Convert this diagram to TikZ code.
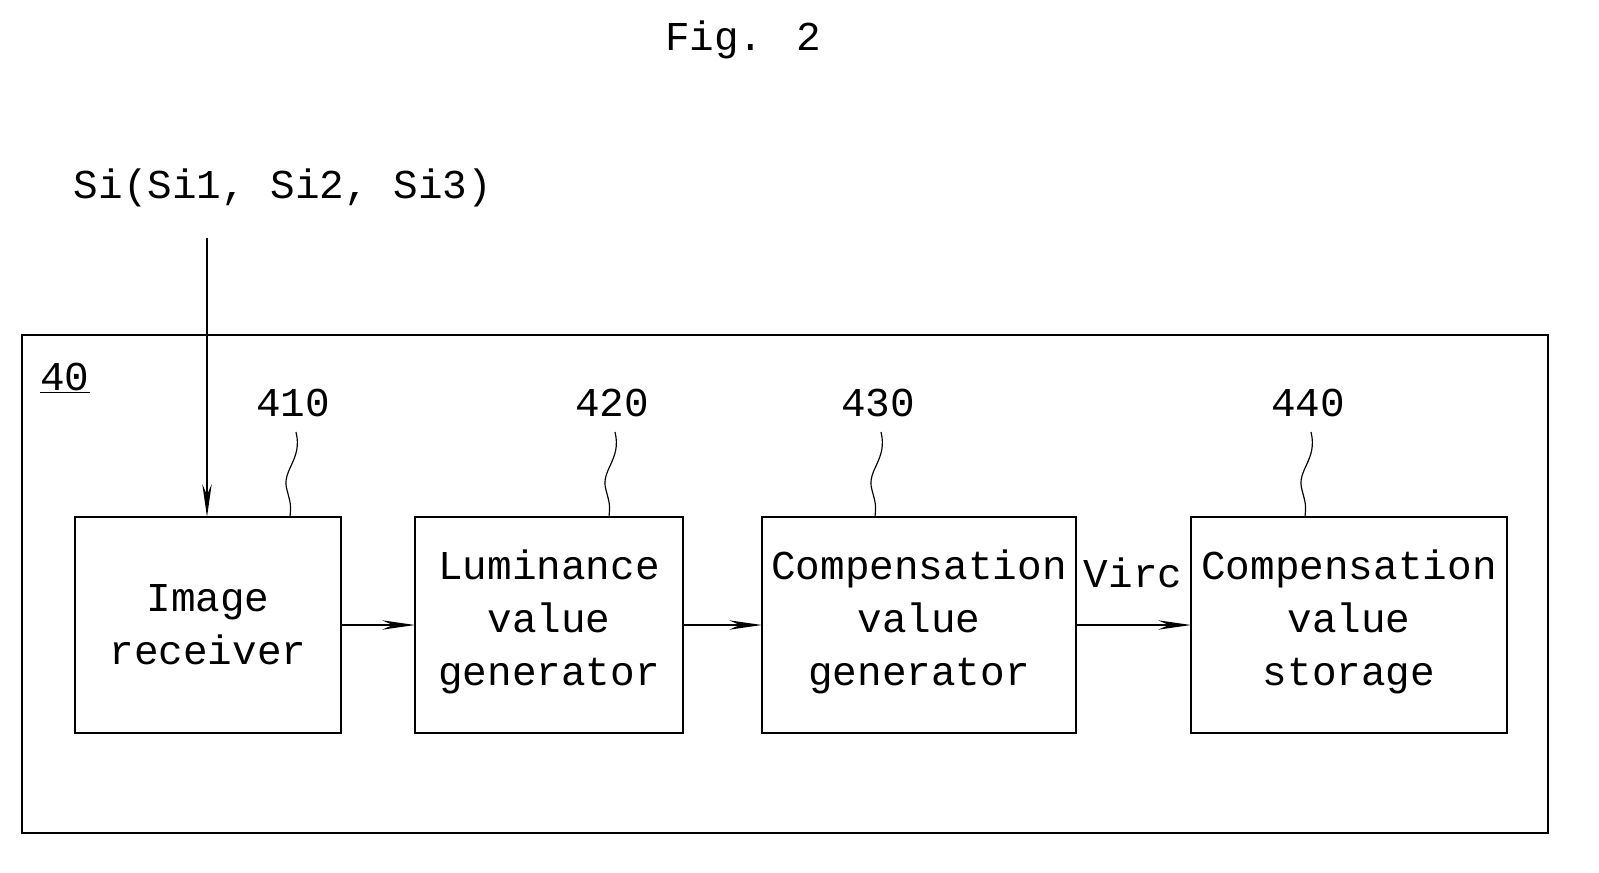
\documentclass[tikz,border=0pt]{standalone}
\usepackage{fontspec}
\setmainfont{Liberation Mono}
\usetikzlibrary{arrows.meta}
\begin{document}
\begin{tikzpicture}[x=0.03cm,y=-0.03cm,
  txt/.style={font=\fontsize{35}{45}\selectfont,inner sep=0pt},
  box/.style={line width=2.4pt},
  arr/.style={line width=1.3pt,-{Stealth[length=28pt,width=8pt]}},
  sq/.style={line width=1pt}]
\useasboundingbox (0,0) rectangle (1599,873);
\node[txt] (title) at (743,40) {Fig. 2};
\node[txt] (si) at (283,188) {Si(Si1, Si2, Si3)};
\draw[box] (22,335) rectangle (1548,833);
\node[txt] (n40) at (65,378) {\underline{40}};
\draw[box] (75,517) rectangle (341,733);
\draw[box] (415,517) rectangle (683,733);
\draw[box] (762,517) rectangle (1076,733);
\draw[box] (1191,517) rectangle (1507,733);
\coordinate (Aw) at (341,625); \coordinate (At) at (207,517);
\coordinate (Bw) at (415,625); \coordinate (Be) at (683,625);
\coordinate (Cw) at (762,625); \coordinate (Ce) at (1076,625);
\coordinate (Dw) at (1191,625);
\node[txt,align=center] (ta) at (208,625) {Image\\receiver};
\node[txt,align=center] (tb) at (549,622) {Luminance\\value\\generator};
\node[txt,align=center] (tc) at (919,622) {Compensation\\value\\generator};
\node[txt,align=center] (td) at (1349,622) {Compensation\\value\\storage};
\node[txt] (virc) at (1133,573) {Virc};
\coordinate (sitop) at (207,238);
\draw[arr] (sitop) -- (At);
\draw[arr] (Aw) -- (Bw);
\draw[arr] (Be) -- (Cw);
\draw[arr] (Ce) -- (Dw);
\foreach \n/\x in {410/293,420/612,430/878,440/1308}{
  \node[txt] (l\n) at (\x,403) {\n};
  \draw[sq] (\x+3,432) .. controls (\x+10,460) and (\x-12,470) .. (\x-6,490) .. controls (\x-2,505) .. (\x-3,517);
}
\end{tikzpicture}
\end{document}
